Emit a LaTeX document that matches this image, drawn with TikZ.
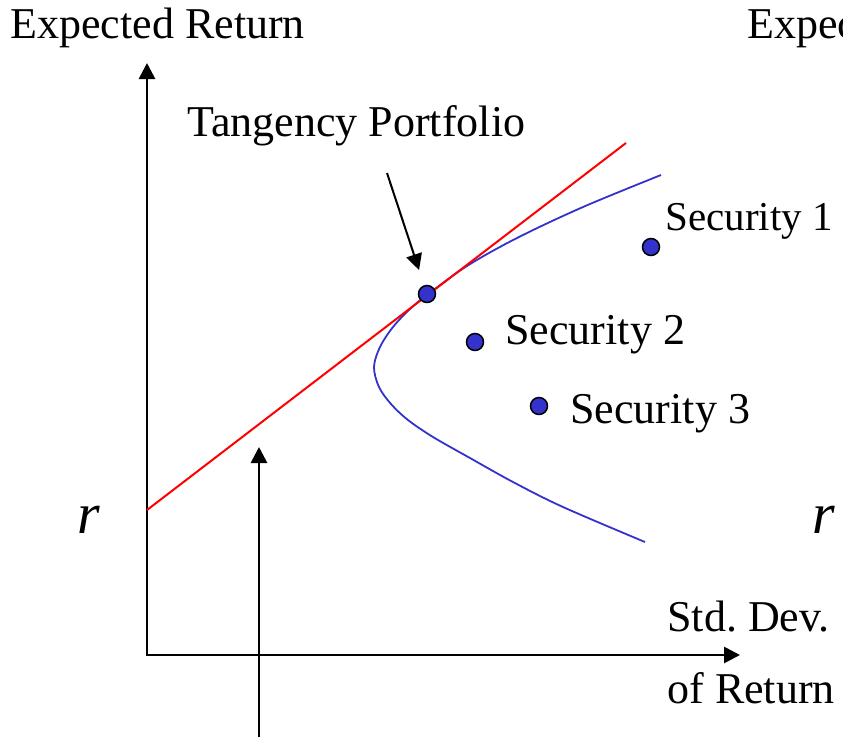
\documentclass[tikz,border=0pt]{standalone}
\usepackage{fontspec}
\setmainfont{Liberation Serif}
\usetikzlibrary{arrows.meta,positioning,calc}
\definecolor{cml}{HTML}{FF0000}
\definecolor{frontier}{HTML}{3333CC}
\definecolor{asset}{HTML}{3333CC}

\begin{document}
\begin{tikzpicture}
[x=0.5pt,y=-0.5pt,
arr/.style={line width=1.4pt,-{Triangle[length=8pt,width=8pt]}},
axes/.style={line width=1.4pt,{Triangle[length=8pt,width=8pt]}-{Triangle[length=8pt,width=8pt]}},
lbl/.style={anchor=base west,inner sep=0pt,font=\fontsize{22}{26}\selectfont},
rate/.style={anchor=base west,inner sep=0pt,font=\fontsize{29}{32}\selectfont\itshape},
sec/.style={circle,draw,line width=0.75pt,fill=asset,minimum size=8.5pt,inner sep=0pt}]
\useasboundingbox (0,0) rectangle (843,736);
%%%%%%%%%%
%% axes
\coordinate (O) at (147,655);
\coordinate (ytop) at (147,63);
\coordinate (xend) at (740,655);
\draw[axes] (ytop) -- (O) -- (xend);
\node[lbl] (ylab) at (10,38) {Expected Return};
\node[lbl] (ylabr) at (747,38) {Expected Return};
\node[lbl] (xlab) at (667,631) {Std.\ Dev.};
\node[lbl] (xlabb) at (667,703) {of Return};
\node[rate] (rl) at (77,533) {r};
\node[rate] (rr) at (812,533) {r};

%% efficient frontier
\draw[frontier,line width=0.9pt] plot[smooth,tension=0.55] coordinates
{(661,175) (583,207) (517,238) (467,266) (427,295) (410,309) (393,327)
 (380,347) (374,367) (379,387) (391,404) (408,420) (433,437) (470,458)
 (513,482) (563,507) (645,542)};

%% capital market line
\coordinate (rf) at (147,510);
\coordinate (cmlend) at (626,143);
\draw[cml,line width=1pt] (rf) -- (cmlend);

%% securities
\node[sec] (tp) at (427,294) {};
\node[sec] (s1) at (651,247) {};
\node[sec] (s2) at (475,342) {};
\node[sec] (s3) at (539,406) {};
\node[lbl,font=\fontsize{20.5}{24}\selectfont] (s1lab) at (665,230) {Security 1};
\node[lbl] (s2lab) at (505,344) {Security 2};
\node[lbl] (s3lab) at (570,423) {Security 3};

%% tangency
\node[lbl] (tplab) at (187,136) {Tangency Portfolio};
\coordinate (tptail) at (387,173);
\draw[arr,line width=1pt,shorten >=8pt] (tptail) -- (tp);

\coordinate (cmlpt) at (259,447);
\coordinate (bot) at (259,740);
\draw[arr] (bot) -- (cmlpt);
\end{tikzpicture}
\end{document}
